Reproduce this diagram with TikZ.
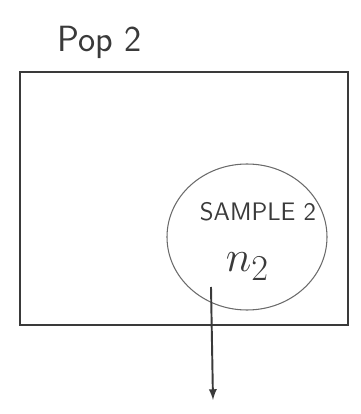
\documentclass[tikz,border=0pt]{standalone}
\usepackage{tikz}
\usetikzlibrary{positioning,shapes.geometric}
\definecolor{Pencil}{HTML}{3A3A3A}
\definecolor{Faint}{HTML}{6A6A6A}

\begin{document}
\begin{tikzpicture}[
    popbox/.style={draw=Pencil,line width=1.3pt,minimum width=6.56cm,minimum height=5.06cm},
    samplering/.style={ellipse,draw=Faint,line width=0.6pt,minimum width=3.2cm,minimum height=2.92cm},
    label/.style={text=Pencil,font=\sffamily},
    arrow/.style={-latex,line width=1.1pt,Pencil}
  ]
    \useasboundingbox (0,0) rectangle (7.22,8.28);
    \node[popbox] (pop) at (3.68,4.31) {};
    \node[label,font=\sffamily\huge] (poplbl) at (2.0,7.44) {Pop 2};
    \node[samplering] (sample) at (4.94,3.54) {};
    \node[label,font=\sffamily\Large] (samplelbl) at (5.16,4.04) {SAMPLE 2};
    \node[label,font=\Huge] (size) at (4.95,2.95) {$n_{2}$};
    \coordinate (from) at (4.22,2.54);
    \coordinate (out) at (4.26,0.28);
    \draw[arrow] (from)--(out);
  \end{tikzpicture}
\end{document}
